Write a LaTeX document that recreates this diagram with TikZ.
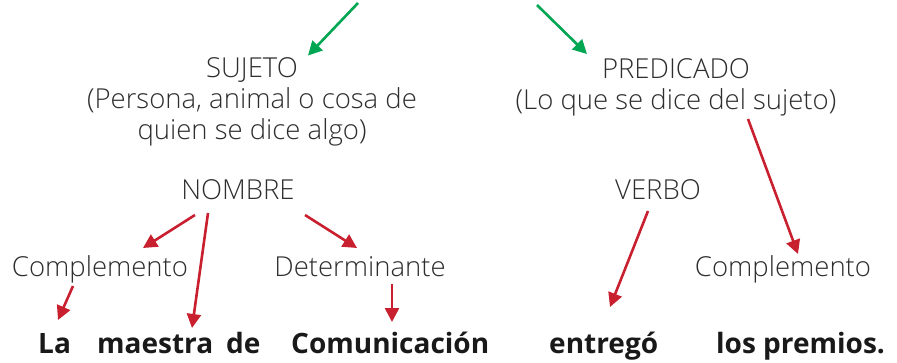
\documentclass[tikz,border=0pt]{standalone}
\usepackage{fontspec}
\setmainfont{Open Sans}[UprightFont=* Light,BoldFont=* Bold]
\usetikzlibrary{arrows.meta,positioning,calc}
\definecolor{ink}{HTML}{2E2E2E}
\definecolor{leafgreen}{HTML}{00A651}
\definecolor{brickred}{HTML}{C9202F}
\tikzset{
  term/.style={text=ink,align=center,inner sep=0pt,
    font=\fontsize{27.5}{31}\selectfont},
  word/.style={text=black!90,inner sep=0pt,anchor=base west,
    font=\bfseries\fontsize{28}{32}\selectfont},
  redarrow/.style={-{Triangle[length=14pt,width=14pt]},draw=brickred,line width=2.6pt},
  greenarrow/.style={-{Triangle[length=14pt,width=14pt]},draw=leafgreen,line width=2.6pt}
}

\begin{document}
\begin{tikzpicture}[x=1pt,y=-1pt]
  \useasboundingbox (0,0) rectangle (897,362);
  % parts of the sentence
  \node[term] (sujeto) at (252,102) {SUJETO\\(Persona, animal o cosa de\\quien se dice algo)};
  \node[term] (predicado) at (676,87) {PREDICADO\\(Lo que se dice del sujeto)};
  \node[term,anchor=base] (nombre) at (238,199) {NOMBRE};
  \node[term,anchor=base] (verbo) at (658,199) {VERBO};
  \node[term,anchor=base] (compl1) at (100,276) {Complemento};
  \node[term,anchor=base] (determ) at (360,276) {Determinante};
  \node[term,anchor=base] (compl2) at (783,276) {Complemento};
  % the sentence
  \node[word] (la) at (38,353) {La};
  \node[word] (maestra) at (97,353) {maestra};
  \node[word] (de) at (226,353) {de};
  \node[word] (comunicacion) at (291,353) {Comunicación};
  \node[word] (entrego) at (549,353) {entregó};
  \node[word] (premios) at (716,353) {los premios.};
  \coordinate (g1) at (358,3);
  \coordinate (g2) at (537,5);
  \draw[greenarrow] (g1) -- ($(sujeto.north)+(56,-2)$);
  \draw[greenarrow] (g2) -- ($(predicado.north)+(-89,-4)$);
  \draw[redarrow] ($(nombre.base)+(-43,16)$) -- ($(compl1.base)+(43,-28)$);
  \draw[redarrow] ($(nombre.base)+(-30,14)$) -- ($(maestra.base west)+(95,-25)$);
  \draw[redarrow] ($(nombre.base)+(67,16)$) -- ($(determ.base)+(-3,-28)$);
  \draw[redarrow] ($(compl1.base)+(-27,10)$) -- ($(la.base west)+(20,-33)$);
  \draw[redarrow] ($(determ.base)+(32,8)$) -- ($(comunicacion.base west)+(101,-31)$);
  \draw[redarrow] ($(verbo.base)+(-10,12)$) -- ($(entrego.base west)+(61,-46)$);
  \draw[redarrow] ($(predicado.south)+(72,3)$) -- ($(compl2.base)+(15,-22)$);
\end{tikzpicture}
\end{document}
